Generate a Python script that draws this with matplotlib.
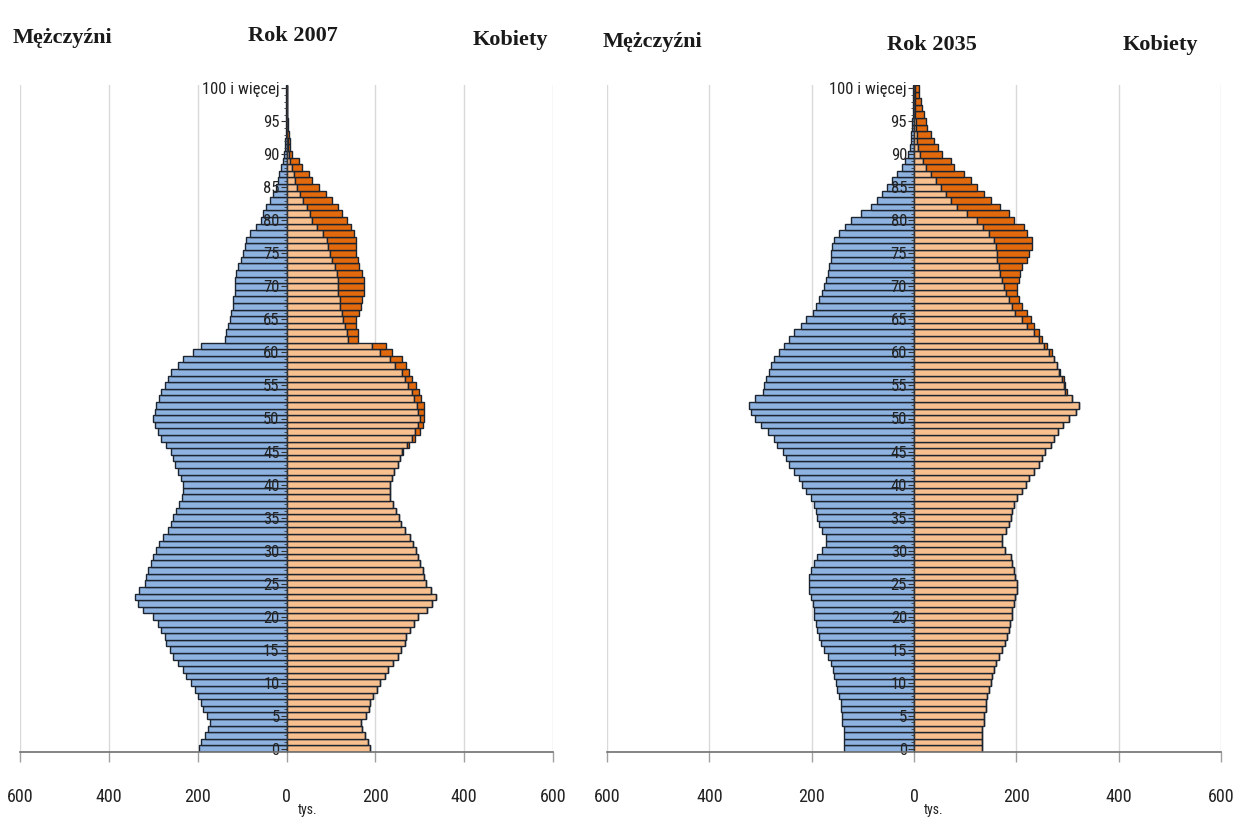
import numpy as np
import matplotlib
matplotlib.use("Agg")
import matplotlib.pyplot as plt
from matplotlib import font_manager
from matplotlib.ticker import FuncFormatter

# ages 0..100 ("100 i więcej" = last bar), values in thousands
ages = np.arange(0, 101)

male_2007 = [196, 192, 184, 177, 173, 180, 188, 192, 199, 207,
             214, 226, 233, 244, 256, 263, 271, 274, 282, 290,
             300, 323, 334, 342, 331, 319, 316, 312, 304, 300,
             293, 286, 278, 267, 259, 256, 248, 241, 235, 233,
             233, 237, 244, 252, 256, 259, 271, 282, 290, 297,
             300, 297, 293, 286, 282, 274, 267, 259, 244, 233,
             210, 192, 139, 136, 132, 128, 124, 121, 121, 117,
             117, 117, 113, 109, 102, 98, 94, 91, 83, 68,
             57, 53, 46, 38, 31, 23, 20, 16, 12, 9,
             6, 4, 3, 2, 2, 1.5, 1, 1, 0.5, 0.5, 0.5]
female_2007 = [188, 184, 177, 171, 168, 178, 185, 189, 195, 203,
               210, 222, 229, 240, 251, 258, 266, 270, 278, 286,
               296, 317, 328, 336, 326, 313, 310, 307, 301, 297,
               291, 284, 277, 266, 258, 254, 247, 240, 234, 232,
               233, 237, 243, 251, 256, 262, 276, 290, 300, 308,
               310, 310, 310, 302, 298, 291, 283, 276, 268, 261,
               238, 224, 160, 160, 156, 156, 164, 168, 171, 175,
               175, 175, 171, 164, 160, 156, 156, 156, 152, 145,
               137, 126, 115, 103, 88, 73, 58, 50, 35, 29,
               12, 9, 7, 5, 4, 3, 2, 1.5, 1, 0.7, 1]

male_2035 = [137, 137, 137, 137, 140, 140, 143, 143, 146, 150,
             153, 156, 159, 163, 169, 176, 182, 185, 189, 192,
             195, 195, 198, 202, 205, 205, 205, 202, 195, 189,
             179, 172, 172, 179, 185, 189, 192, 195, 202, 211,
             218, 224, 234, 244, 251, 257, 267, 273, 286, 299,
             310, 318, 322, 310, 296, 293, 289, 283, 280, 273,
             263, 254, 244, 234, 221, 211, 198, 192, 185, 179,
             176, 172, 169, 166, 163, 163, 160, 156, 147, 134,
             124, 104, 85, 72, 62, 53, 43, 33, 24, 17,
             11, 8, 6, 5, 4, 3, 2, 2, 1, 1, 2]
female_2035 = [133, 133, 133, 133, 137, 137, 140, 140, 143, 146,
               150, 153, 156, 160, 166, 172, 178, 181, 185, 188,
               191, 192, 195, 198, 201, 201, 198, 195, 192, 189,
               178, 172, 172, 179, 185, 189, 192, 195, 202, 211,
               218, 224, 234, 244, 251, 257, 267, 273, 282, 292,
               303, 316, 322, 309, 299, 296, 293, 286, 280, 273,
               270, 260, 250, 244, 234, 228, 221, 211, 205, 202,
               202, 205, 208, 211, 221, 224, 231, 231, 221, 215,
               195, 185, 169, 150, 137, 124, 111, 98, 78, 72,
               55, 46, 39, 33, 26, 23, 20, 16, 13, 10, 10]

age_ticks = list(range(0, 101, 5))
age_labels = [str(a) for a in range(0, 100, 5)] + ["100 i więcej"]
x_ticks = [-600, -400, -200, 0, 200, 400, 600]

blue = "#8EB3E0"
light_orange = "#F9C08F"
dark_orange = "#E2690C"
edge = "#1c2430"

names = {f.name for f in font_manager.fontManager.ttflist}
def pick(cands):
    for c in cands:
        if c in names:
            return c
    return "DejaVu Sans"

narrow = pick(["Liberation Sans Narrow", "Roboto Condensed", "Liberation Sans"])
serif = pick(["Liberation Serif", "DejaVu Serif"])

W, H = 1233, 818
fig = plt.figure(figsize=(W / 100, H / 100), dpi=100)


def pyramid(ax, male, female):
    male = np.array(male, dtype=float)
    female = np.array(female, dtype=float)
    common = np.minimum(male, female)
    extra = female - common

    for g in x_ticks:
        ax.axvline(g, color="#d9d9d9", lw=1, zorder=0)

    ax.barh(ages, -male, height=1.0, color=blue, edgecolor=edge, lw=1.0, zorder=1)
    ax.barh(ages, common, height=1.0, color=light_orange, edgecolor=edge, lw=1.0, zorder=1)
    ax.barh(ages, extra, left=common, height=1.0, color=dark_orange,
            edgecolor=edge, lw=1.0, zorder=1)

    ax.set_xlim(-600, 600)
    ax.set_ylim(-0.5, 100.5)

    ax.spines["top"].set_visible(False)
    ax.spines["right"].set_visible(False)
    ax.spines["left"].set_position(("data", 0))
    ax.spines["left"].set_color("#333333")
    ax.spines["left"].set_linewidth(0.8)
    ax.spines["bottom"].set_color("#707070")
    ax.spines["bottom"].set_linewidth(1.2)

    ax.set_yticks(age_ticks)
    ax.set_yticklabels(age_labels, fontfamily=narrow, fontsize=12, color="#222222")
    ax.set_yticks(ages, minor=True)
    ax.tick_params(axis="y", which="major", length=4, width=0.8, pad=1, color="#333333")
    ax.tick_params(axis="y", which="minor", length=2.5, width=0.6, color="#333333")

    ax.set_xticks(x_ticks)
    ax.xaxis.set_major_formatter(FuncFormatter(lambda v, p: "%d" % abs(v)))
    ax.tick_params(axis="x", length=7, width=1, color="#a0a0a0", pad=19,
                   labelsize=13, labelcolor="#222222")
    for lab in ax.get_xticklabels():
        lab.set_fontfamily(narrow)


ax1 = fig.add_axes([20 / W, 1 - 752 / H, 533 / W, 667 / H])
pyramid(ax1, male_2007, female_2007)
ax2 = fig.add_axes([607 / W, 1 - 752 / H, 614 / W, 667 / H])
pyramid(ax2, male_2035, female_2035)

title_kw = dict(fontfamily=serif, fontweight="bold", fontsize=16, va="center",
                color="#1a1a1a")
fig.text(62 / W, 1 - 38 / H, "Mężczyźni", ha="center", **title_kw)
fig.text(293 / W, 1 - 36 / H, "Rok 2007", ha="center", **title_kw)
fig.text(510 / W, 1 - 40 / H, "Kobiety", ha="center", **title_kw)
fig.text(652 / W, 1 - 42 / H, "Mężczyźni", ha="center", **title_kw)
fig.text(932 / W, 1 - 45 / H, "Rok 2035", ha="center", **title_kw)
fig.text(1160 / W, 1 - 45 / H, "Kobiety", ha="center", **title_kw)

fig.text(298 / W, 1 - 810 / H, "tys.", fontfamily=narrow, fontsize=10, va="center",
         color="#222222")
fig.text(924 / W, 1 - 810 / H, "tys.", fontfamily=narrow, fontsize=10, va="center",
         color="#222222")

fig.savefig("out.png", dpi=100)
